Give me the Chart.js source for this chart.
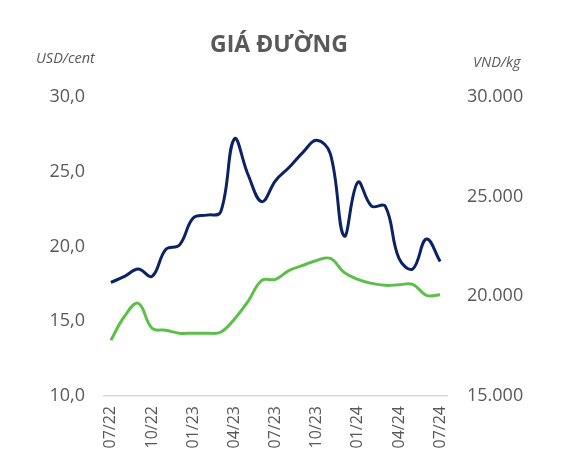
<!DOCTYPE html>
<html>
<head>
<meta charset="utf-8">
<script src="https://cdn.jsdelivr.net/npm/chart.js@4"></script>
<style>
  html, body { margin:0; padding:0; background:#fff; }
  #wrap { position:relative; width:587px; height:474px; font-family:"Open Sans", sans-serif; color:#595959; }
  #chart { position:absolute; left:0; top:0; }
  .title { position:absolute; left:0; width:558px; top:27px; text-align:center; font-weight:bold; font-size:23px; }
  .unit { position:absolute; font-style:italic; font-size:14.5px; }
</style>
</head>
<body>
<div id="wrap">
  <canvas id="chart" width="587" height="474"></canvas>
  <div class="title">GIÁ ĐƯỜNG</div>
  <div class="unit" style="left:36px;top:48px;">USD/cent</div>
  <div class="unit" style="left:473px;top:52px;">VND/kg</div>
</div>
<script>
// monthly, 07/22 .. 07/24
const months = ['07/22','08/22','09/22','10/22','11/22','12/22','01/23','02/23','03/23','04/23','05/23','06/23',
  '07/23','08/23','09/23','10/23','11/23','12/23','01/24','02/24','03/24','04/24','05/24','06/24','07/24'];
const worldPrice = [17.6, 18.0, 18.5, 18.0, 19.8, 20.1, 21.9, 22.1, 22.3, 27.2, 24.8, 23.0,
  24.4, 25.3, 26.3, 27.1, 26.2, 20.7, 24.3, 22.7, 22.7, 19.2, 18.5, 20.5, 19.0];
const domesticPrice = [17800, 19000, 19650, 18400, 18300, 18150, 18150, 18150, 18200, 18850, 19750, 20800,
  20850, 21300, 21550, 21800, 21900, 21200, 20850, 20650, 20550, 20580, 20600, 20050, 20080];

const tickColor = '#595959';
const tickFont = { family: 'Open Sans', size: 18 };

new Chart(document.getElementById('chart'), {
  type: 'line',
  data: {
    labels: months,
    datasets: [
      { label: 'USD/cent', data: worldPrice, yAxisID: 'yL', borderColor: '#0b2365', borderWidth: 3, pointRadius: 0, tension: 0.4, fill: false },
      { label: 'VND/kg', data: domesticPrice, yAxisID: 'yR', borderColor: '#5cbf4a', borderWidth: 3, pointRadius: 0, tension: 0.4, fill: false }
    ]
  },
  options: {
    responsive: false,
    animation: false,
    layout: { padding: { top: 97, left: 0, right: 0, bottom: 0 } },
    plugins: { legend: { display: false }, tooltip: { enabled: false } },
    scales: {
      x: {
        offset: true,
        grid: { display: false, drawTicks: false },
        border: { display: true, color: '#d9d9d9', width: 1.5 },
        ticks: {
          autoSkip: false, maxRotation: 90, minRotation: 90, padding: 10,
          color: tickColor, font: { family: 'Open Sans', size: 16 },
          callback: function(v, i){ return i % 3 === 0 ? months[i] : ''; }
        },
        afterFit: s => { s.height = 78; }
      },
      yL: {
        position: 'left', min: 10, max: 30,
        grid: { display: false, drawTicks: false },
        border: { display: false },
        ticks: {
          stepSize: 5, padding: 19, color: tickColor, font: tickFont,
          callback: v => v.toFixed(1).replace('.', ',')
        },
        afterFit: s => { s.width = 104; }
      },
      yR: {
        position: 'right', min: 15000, max: 30000,
        grid: { display: false, drawTicks: false },
        border: { display: false },
        ticks: {
          stepSize: 5000, padding: 20, color: tickColor, font: tickFont,
          callback: v => v.toLocaleString('de-DE')
        },
        afterFit: s => { s.width = 140; }
      }
    }
  }
});
</script>
</body>
</html>
